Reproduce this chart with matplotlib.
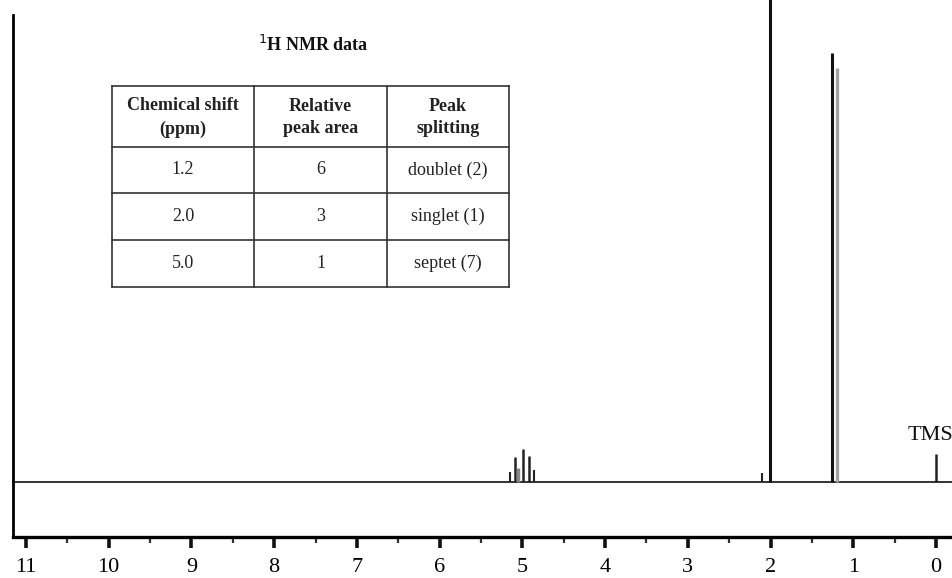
import matplotlib
matplotlib.use("Agg")
import matplotlib.pyplot as plt
from matplotlib.ticker import MultipleLocator

SERIF = ["Liberation Serif", "DejaVu Serif"]

# ---- data ----
peak_ppm = [5.15, 5.09, 5.05, 4.99, 4.92, 4.86, 2.10, 2.007, 1.26, 1.20, 0.0]
peak_height = [10, 25, 14, 33, 26, 12, 9, 600, 429, 414, 28]
peak_color = ["#222222", "#222222", "#888888", "#222222", "#222222", "#222222",
              "#222222", "#111111", "#111111", "#a0a0a0", "#222222"]
peak_width = [1.5, 1.8, 2.5, 1.8, 1.8, 1.5, 1.5, 2.2, 2.2, 2.4, 1.8]

tick_values = list(range(0, 12))
tick_labels = [str(v) for v in tick_values]

table_title = "$^{1}$H NMR data"
table_header = ["Chemical shift\n(ppm)", "Relative\npeak area", "Peak\nsplitting"]
table_shift = ["1.2", "2.0", "5.0"]
table_area = ["6", "3", "1"]
table_split = ["doublet (2)", "singlet (1)", "septet (7)"]

# ---- figure ----
W, H = 953, 578
fig = plt.figure(figsize=(W / 100, H / 100), dpi=100)

ax = fig.add_axes([13 / W, (H - 537) / H, (W - 13) / W, 537 / H])
ax.set_xlim(11.157, -0.205)
ax.set_ylim(-55, 482)

# baseline
ax.axhline(0, color="#333333", lw=1.4, zorder=1)
# peaks
for x, h, c, w in zip(peak_ppm, peak_height, peak_color, peak_width):
    ax.vlines(x, 0, h, color=c, lw=w, zorder=2)

ax.text(0.07, 47, "TMS", ha="center", va="center", fontsize=16,
        family=SERIF, color="#111111")

for s in ["top", "right"]:
    ax.spines[s].set_visible(False)
ax.spines["bottom"].set_linewidth(2.4)
ax.spines["left"].set_linewidth(2.0)
ax.spines["left"].set_bounds(-55, 467)
ax.set_yticks([])
ax.xaxis.set_minor_locator(MultipleLocator(0.5))
ax.set_xticks(tick_values)
ax.set_xticklabels(tick_labels, family=SERIF, fontsize=16)
ax.tick_params(axis="x", which="major", length=8, width=2.6, direction="out", pad=7,
               color="#111111")
ax.tick_params(axis="x", which="minor", length=4, width=1.6, direction="out",
               color="#333333")

# ---- table overlay in pixel coordinates ----
ov = fig.add_axes([0, 0, 1, 1], facecolor="none")
ov.set_xlim(0, W)
ov.set_ylim(H, 0)
ov.axis("off")

ov.text(313, 45, table_title, ha="center", va="center", fontsize=13,
        family=SERIF, fontweight="bold", color="#111111")

col_x = [112, 254, 387, 509]
row_y = [86, 147, 193, 240, 287]
for x in col_x:
    ov.plot([x, x], [row_y[0], row_y[-1]], color="#333333", lw=1.2)
for y in row_y:
    ov.plot([col_x[0], col_x[-1]], [y, y], color="#333333", lw=1.2)

for j, txt in enumerate(table_header):
    cx = (col_x[j] + col_x[j + 1]) / 2
    cy = (row_y[0] + row_y[1]) / 2 + 1
    ov.text(cx, cy, txt, ha="center", va="center", fontsize=13, family=SERIF,
            fontweight="bold", color="#222222", linespacing=1.45)

for i in range(3):
    cy = (row_y[i + 1] + row_y[i + 2]) / 2
    for j, txt in enumerate([table_shift[i], table_area[i], table_split[i]]):
        cx = (col_x[j] + col_x[j + 1]) / 2
        ov.text(cx, cy, txt, ha="center", va="center", fontsize=13,
                family=SERIF, color="#222222")

fig.savefig("out.png", dpi=100)
